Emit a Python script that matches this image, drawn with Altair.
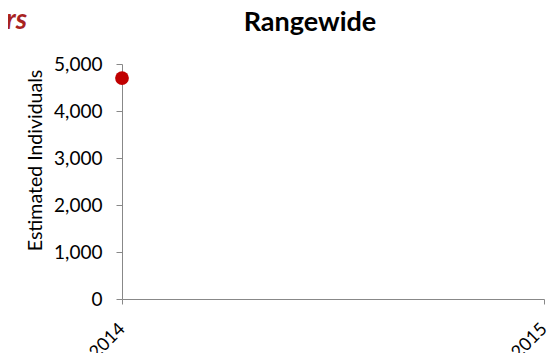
import altair as alt
import pandas as pd

years = [2014]
estimates = [4700]
x_ticks = [2014, 2015]
y_ticks = [0, 1000, 2000, 3000, 4000, 5000]
chart_title = "Rangewide"
side_note = "Bears"

df = pd.DataFrame({"year": years, "estimate": estimates})

FONT = "Lato"

points = alt.Chart(df).mark_circle(color="#C00000", size=190, opacity=1).encode(
    x=alt.X("year:Q", scale=alt.Scale(domain=[2014, 2015], nice=False, zero=False),
            axis=alt.Axis(values=x_ticks, format="d", labelAngle=-45, labelAlign="right",
                          labelBaseline="middle", labelFontSize=18, labelColor="#000",
                          grid=False, domainColor="#888", tickColor="#888", tickSize=5,
                          labelPadding=22, title=None, labelFont=FONT)),
    y=alt.Y("estimate:Q", scale=alt.Scale(domain=[0, 5000], nice=False),
            axis=alt.Axis(values=y_ticks, format=",d", labelFontSize=19, labelColor="#000",
                          grid=False, domainColor="#888", tickColor="#888", tickSize=6,
                          labelPadding=14, title="Estimated Individuals", titleFontSize=19.5,
                          titleFontWeight="normal", titleColor="#000",
                          titleX=-87, titleY=96, titleAlign="center", titleBaseline="middle",
                          titleAngle=270,
                          labelFont=FONT, titleFont=FONT)),
)

note = alt.Chart(pd.DataFrame({"t": [side_note]})).mark_text(
    align="right", baseline="middle", fontSize=28, fontWeight="bold", fontStyle="italic",
    color="#A8231F", font=FONT
).encode(text="t:N", x=alt.value(-95), y=alt.value(-43))

title = alt.Chart(pd.DataFrame({"t": [chart_title]})).mark_text(
    align="center", baseline="middle", fontSize=27, fontWeight="bold",
    color="#000", font=FONT
).encode(text="t:N", x=alt.value(188), y=alt.value(-41))

chart = (points + note + title).properties(
    width=422, height=235,
    padding={"left": 114, "top": 56, "right": 7, "bottom": 60},
    autosize=alt.AutoSizeParams(type="none"),
).configure_view(stroke=None)

chart.save("out.html", embed_options={"renderer": "svg", "actions": False})
